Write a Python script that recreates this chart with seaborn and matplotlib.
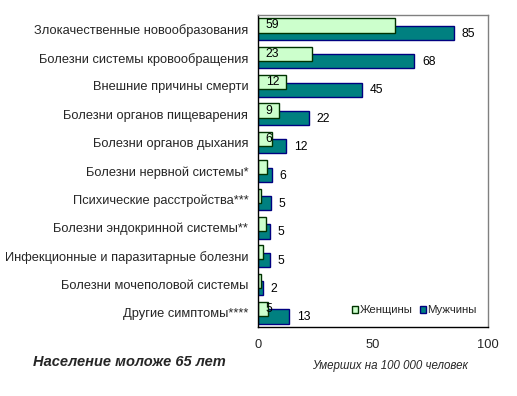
import matplotlib
matplotlib.use("Agg")
import matplotlib.pyplot as plt
import seaborn as sns
import pandas as pd
from matplotlib.patches import Patch

causes = [
    "Злокачественные новообразования",
    "Болезни системы кровообращения",
    "Внешние причины смерти",
    "Болезни органов пищеварения",
    "Болезни органов дыхания",
    "Болезни нервной системы*",
    "Психические расстройства***",
    "Болезни эндокринной системы**",
    "Инфекционные и паразитарные болезни",
    "Болезни мочеполовой системы",
    "Другие симптомы****",
]
women = [59.5, 23.5, 12, 9, 6.2, 4, 1.5, 3.3, 2.3, 1.3, 4.5]
men = [85, 68, 45, 22, 12, 6, 5.5, 5, 5, 2, 13.5]
women_labels = ["59", "23", "12", "9", "6", "", "", "", "", "", "5"]
men_labels = ["85", "68", "45", "22", "12", "6", "5", "5", "5", "2", "13"]

sns.set_style("white")
plt.rcParams["font.family"] = ["Liberation Sans", "DejaVu Sans"]

pos = list(range(len(causes)))
df_m = pd.DataFrame({"val": men, "pos": [p + 0.13 for p in pos]})
df_w = pd.DataFrame({"val": women, "pos": [p - 0.13 for p in pos]})

fig = plt.figure(figsize=(5.17, 3.96), dpi=100)
ax = fig.add_axes([258 / 517, 69 / 396, 230 / 517, 312 / 396])

sns.barplot(data=df_m, x="val", y="pos", orient="h", native_scale=True,
            width=0.5, color="#008080", edgecolor="#000080", linewidth=1,
            saturation=1, ax=ax)
sns.barplot(data=df_w, x="val", y="pos", orient="h", native_scale=True,
            width=0.5, color="#CCFFCC", edgecolor="#003300", linewidth=1,
            saturation=1, ax=ax)

for p, lab in zip(df_w["pos"], women_labels):
    if lab:
        ax.text(3.4, p, lab, va="center", ha="left", fontsize=8.7, color="black")
for p, v, lab in zip(df_m["pos"], men, men_labels):
    ax.text(v + 3.5, p + 0.03, lab, va="center", ha="left", fontsize=8.7, color="black")

ax.set_xlim(0, 100)
ax.set_ylim(10.5, -0.5)
ax.set_yticks(pos)
ax.set_yticklabels(causes, fontsize=9.3)
ax.set_xticks([0, 50, 100])
ax.set_xticklabels(["0", "50", "100"], fontsize=9.3)
ax.tick_params(axis="both", length=0)
ax.tick_params(axis="x", pad=9)
ax.tick_params(axis="y", pad=7)
ax.set_xlabel("")
ax.set_ylabel("")

for side in ["top", "right"]:
    ax.spines[side].set_color("#808080")
for side in ["left", "bottom"]:
    ax.spines[side].set_color("black")
for s in ax.spines.values():
    s.set_linewidth(1)

handles = [
    Patch(facecolor="#CCFFCC", edgecolor="#003300", label="Женщины"),
    Patch(facecolor="#008080", edgecolor="#000080", label="Мужчины"),
]
ax.legend(handles=handles, loc="center", bbox_to_anchor=(0.68, 0.054),
          ncol=2, frameon=False, fontsize=8.2, handlelength=0.55,
          handleheight=0.55, handletextpad=0.15, columnspacing=0.6,
          borderpad=0)

fig.text(390 / 517, 1 - 366 / 396, "Умерших на 100 000 человек",
         ha="center", va="center", fontsize=8.3, style="italic")
fig.text(33 / 517, 1 - 362 / 396, "Население моложе 65 лет",
         ha="left", va="center", fontsize=10.5, style="italic", weight="bold")

fig.savefig("out.png", dpi=100)
